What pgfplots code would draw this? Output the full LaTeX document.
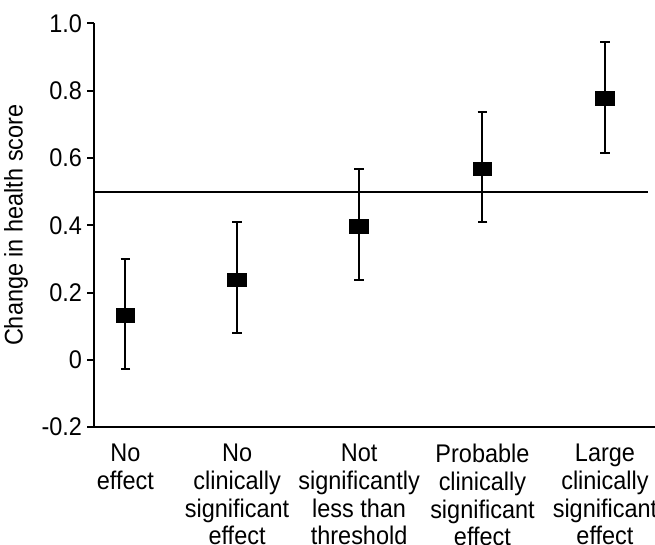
\documentclass[border=0pt]{standalone}
\usepackage{fontspec}
\setmainfont{Liberation Sans}[FakeStretch=0.92]
\usepackage{pgfplots}
\pgfplotsset{compat=1.18}

\begin{document}
\begin{tikzpicture}
\begin{axis}[
    scale only axis,
    width=280.3bp, height=201.7bp,
    xmin=-0.257, xmax=4.34,
    ymin=-0.2, ymax=1.0,
    axis lines=left,
    axis line style={-, line width=1bp},
    xtick={0,0.915,1.915,2.926,3.93},
    xticklabels={No\\effect, No\\clinically\\significant\\effect, Not\\significantly\\less than\\threshold, Probable\\clinically\\significant\\effect, Large\\clinically\\significant\\effect},
    xticklabel style={align=center, font=\fontsize{12.8}{13.9}\selectfont, yshift=-1.5bp},
    xtick style={draw=none},
    ytick={-0.2,0,0.2,0.4,0.6,0.8,1.0},
    yticklabels={-0.2,0,0.2,0.4,0.6,0.8,1.0},
    yticklabel style={font=\fontsize{12.8}{14}\selectfont, xshift=1bp},
    tick align=outside,
    major tick length=3.5bp,
    ytick style={line width=1bp, black},
    ylabel={Change in health score},
    ylabel style={font=\fontsize{12.8}{14}\selectfont},
    clip=false,
]
\addplot[black, line width=0.9bp] coordinates {(-0.257,0.5) (4.28,0.5)};
\addplot[only marks, mark=square*, mark size=3.4bp,
    mark options={xscale=1.38, fill=black, draw=black},
    error bars/.cd, y dir=both, y explicit,
    error bar style={line width=1bp, black},
    error mark options={rotate=90, mark size=2.4bp, line width=1bp, black}]
coordinates {
    (0,0.132) += (0,0.168) -= (0,0.159)
    (0.915,0.238) += (0,0.172) -= (0,0.158)
    (1.915,0.397) += (0,0.169) -= (0,0.159)
    (2.926,0.568) += (0,0.169) -= (0,0.158)
    (3.93,0.777) += (0,0.168) -= (0,0.161)
};
\end{axis}
\pgfresetboundingbox
\path (-47bp,-58.7bp) rectangle (280.3bp,213.4bp);
\end{tikzpicture}
\end{document}
